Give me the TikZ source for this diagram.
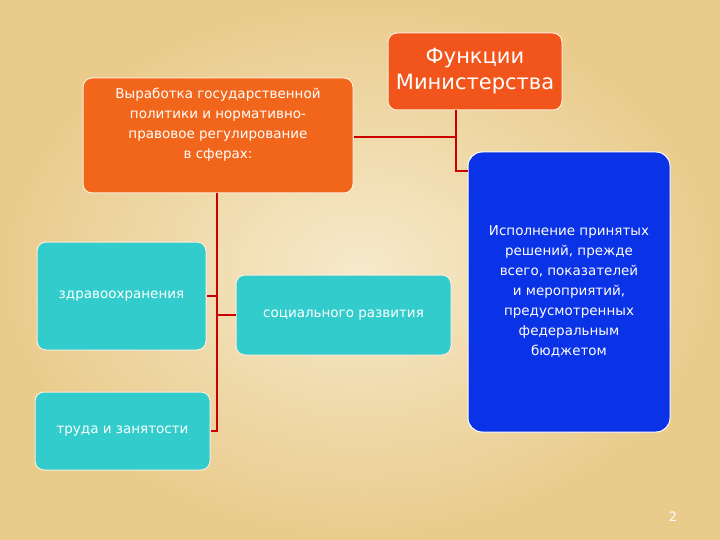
\documentclass[tikz,border=0pt]{standalone}
\usepackage{fontspec}
\setmainfont{DejaVu Sans}
\begin{document}
\begin{tikzpicture}[x=1pt,y=-1pt,
 box/.style={draw=white!85!orange,line width=1pt,rounded corners=9pt,text=white,align=center,inner sep=2pt,font=\fontsize{13.5}{20}\selectfont},
 orng/.style={box,fill=orng1},
 cyanb/.style={box,fill=cyn},
 conn/.style={draw=red!80!black,line width=1.6pt}]
\definecolor{bgA}{HTML}{F6EACB}\definecolor{bgB}{HTML}{E9CB8C}
\definecolor{orng1}{HTML}{F2661C}\definecolor{orng2}{HTML}{F2551C}
\definecolor{cyn}{HTML}{33CCCC}\definecolor{blu}{HTML}{0A32E6}
\useasboundingbox (0,0) rectangle (720,540);
\shade[inner color=bgA,outer color=bgB] (0,0) rectangle (720,540);
\node[orng,minimum width=270pt,minimum height=115pt] (a) at (218,135.5) {Выработка государственной\\политики и нормативно-\\правовое регулирование\\в сферах:\\[4pt]};
\node[orng,fill=orng2,minimum width=174pt,minimum height=77pt,font=\fontsize{21}{26}\selectfont] (f) at (475,71.5) {Функции\\Министерства};
\node[box,fill=blu,draw=white,minimum width=202pt,minimum height=280pt,rounded corners=14pt] (b) at (569,292) {Исполнение принятых\\решений, прежде\\всего, показателей\\и мероприятий,\\предусмотренных\\федеральным\\бюджетом};
\node[cyanb,minimum width=169pt,minimum height=108pt] (z) at (121.5,296) {здравоохранения};
\node[cyanb,minimum width=215pt,minimum height=80pt] (s) at (343.5,315) {социального развития};
\node[cyanb,minimum width=175pt,minimum height=78pt] (t) at (122.5,431) {труда и занятости};
\coordinate (c1) at (217,193);
\draw[conn] (a.south -| c1) -- (217,431) -- (t.east);
\draw[conn] (217,296) -- (z.east);
\draw[conn] (217,315) -- (s.west);
\draw[conn] (f.south -| 456,0) -- (456,171) -- (b.west |- 0,171);
\draw[conn] (a.east |- 0,137) -- (456,137);
\node[text=white,font=\fontsize{13}{15}\selectfont] (p) at (673,517) {2};
\end{tikzpicture}
\end{document}
